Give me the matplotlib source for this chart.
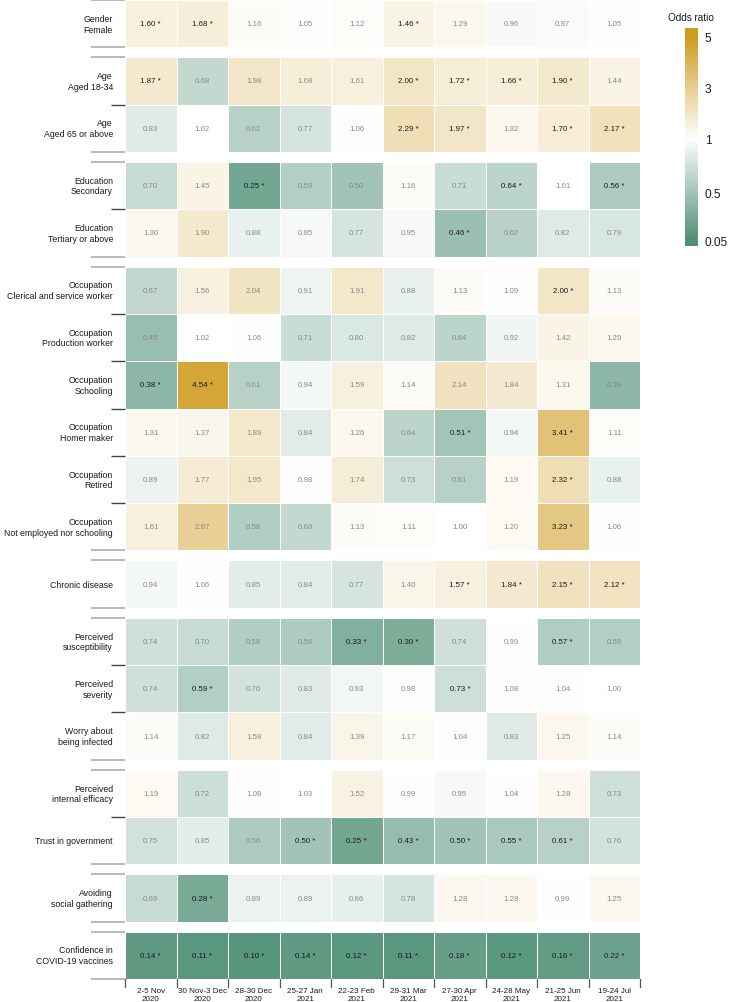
import numpy as np
import matplotlib
matplotlib.use("Agg")
import matplotlib.pyplot as plt
from matplotlib.colors import TwoSlopeNorm, LinearSegmentedColormap

plt.rcParams['font.family'] = ['Liberation Sans', 'DejaVu Sans']

# rows, grouped as in the figure
row_labels = [
    "Gender\nFemale",
    "Age\nAged 18-34", "Age\nAged 65 or above",
    "Education\nSecondary", "Education\nTertiary or above",
    "Occupation\nClerical and service worker", "Occupation\nProduction worker",
    "Occupation\nSchooling", "Occupation\nHomer maker", "Occupation\nRetired",
    "Occupation\nNot employed nor schooling",
    "Chronic disease",
    "Perceived\nsusceptibility", "Perceived\nseverity", "Worry about\nbeing infected",
    "Perceived\ninternal efficacy", "Trust in government",
    "Avoiding\nsocial gathering",
    "Confidence in\nCOVID-19 vaccines",
]
group_sizes = [1, 2, 2, 6, 1, 3, 2, 1, 1]

waves = ["2-5 Nov\n2020", "30 Nov-3 Dec\n2020", "28-30 Dec\n2020", "25-27 Jan\n2021",
         "22-23 Feb\n2021", "29-31 Mar\n2021", "27-30 Apr\n2021", "24-28 May\n2021",
         "21-25 Jun\n2021", "19-24 Jul\n2021"]

odds = [
    [1.60, 1.68, 1.16, 1.05, 1.12, 1.46, 1.29, 0.96, 0.97, 1.05],
    [1.87, 0.68, 1.98, 1.68, 1.61, 2.00, 1.72, 1.66, 1.90, 1.44],
    [0.83, 1.02, 0.62, 0.77, 1.06, 2.29, 1.97, 1.32, 1.70, 2.17],
    [0.70, 1.45, 0.25, 0.59, 0.50, 1.16, 0.71, 0.64, 1.01, 0.56],
    [1.30, 1.90, 0.88, 0.95, 0.77, 0.95, 0.46, 0.62, 0.82, 0.79],
    [0.67, 1.56, 2.04, 0.91, 1.91, 0.88, 1.13, 1.09, 2.00, 1.13],
    [0.45, 1.02, 1.06, 0.71, 0.80, 0.82, 0.64, 0.92, 1.42, 1.29],
    [0.38, 4.54, 0.61, 0.94, 1.59, 1.14, 2.14, 1.84, 1.31, 0.39],
    [1.31, 1.37, 1.89, 0.84, 1.26, 0.64, 0.51, 0.94, 3.41, 1.11],
    [0.89, 1.77, 1.95, 0.98, 1.74, 0.73, 0.61, 1.19, 2.32, 0.88],
    [1.61, 2.87, 0.58, 0.68, 1.13, 1.11, 1.00, 1.20, 3.23, 1.06],
    [0.94, 1.06, 0.85, 0.84, 0.77, 1.40, 1.57, 1.84, 2.15, 2.12],
    [0.74, 0.70, 0.58, 0.56, 0.33, 0.30, 0.74, 0.99, 0.57, 0.59],
    [0.74, 0.59, 0.76, 0.83, 0.93, 0.98, 0.73, 1.08, 1.04, 1.00],
    [1.14, 0.82, 1.58, 0.84, 1.39, 1.17, 1.04, 0.83, 1.25, 1.14],
    [1.19, 0.72, 1.08, 1.03, 1.52, 0.99, 0.95, 1.04, 1.28, 0.73],
    [0.75, 0.85, 0.56, 0.50, 0.25, 0.43, 0.50, 0.55, 0.61, 0.76],
    [0.69, 0.28, 0.89, 0.89, 0.86, 0.78, 1.28, 1.28, 0.99, 1.25],
    [0.14, 0.11, 0.10, 0.14, 0.12, 0.11, 0.18, 0.12, 0.16, 0.22],
]

signif = [
    [1, 1, 0, 0, 0, 1, 0, 0, 0, 0],
    [1, 0, 0, 0, 0, 1, 1, 1, 1, 0],
    [0, 0, 0, 0, 0, 1, 1, 0, 1, 1],
    [0, 0, 1, 0, 0, 0, 0, 1, 0, 1],
    [0, 0, 0, 0, 0, 0, 1, 0, 0, 0],
    [0, 0, 0, 0, 0, 0, 0, 0, 1, 0],
    [0, 0, 0, 0, 0, 0, 0, 0, 0, 0],
    [1, 1, 0, 0, 0, 0, 0, 0, 0, 0],
    [0, 0, 0, 0, 0, 0, 1, 0, 1, 0],
    [0, 0, 0, 0, 0, 0, 0, 0, 1, 0],
    [0, 0, 0, 0, 0, 0, 0, 0, 1, 0],
    [0, 0, 0, 0, 0, 0, 1, 1, 1, 1],
    [0, 0, 0, 0, 1, 1, 0, 0, 1, 0],
    [0, 1, 0, 0, 0, 0, 1, 0, 0, 0],
    [0, 0, 0, 0, 0, 0, 0, 0, 0, 0],
    [0, 0, 0, 0, 0, 0, 0, 0, 0, 0],
    [0, 0, 0, 1, 1, 1, 1, 1, 1, 0],
    [0, 1, 0, 0, 0, 0, 0, 0, 0, 0],
    [1, 1, 1, 1, 1, 1, 1, 1, 1, 1],
]

cbar_ticks = [0.05, 0.5, 1, 3, 5]

odds = np.array(odds)
signif = np.array(signif, dtype=bool)
ncol = len(waves)

cmap = LinearSegmentedColormap.from_list("or", ["#4f9076", "#ffffff", "#cf9b20"])
norm = TwoSlopeNorm(vmin=0.05, vcenter=1, vmax=5)

W, H = 729, 1003
fig = plt.figure(figsize=(W / 100, H / 100), dpi=100)
ax = fig.add_axes([125 / W, 1 - 980 / H, 515 / W, 979 / H])

gap = 0.211
total = len(row_labels) + gap * (len(group_sizes) - 1)
upx = total / 979  # data units per pixel (vertical)

r = 0
y = 0.0
for gs in group_sizes:
    edges = y + np.arange(gs + 1)
    ax.pcolormesh(np.arange(ncol + 1), edges, odds[r:r + gs], cmap=cmap, norm=norm,
                  edgecolors="white", linewidth=0.7)
    # group border lines and inner separators on the left
    for yy in (edges[0], edges[-1]):
        ax.plot([-0.66, 0], [yy, yy], color="#a6a6a6", lw=1.1, clip_on=False,
                solid_capstyle="butt")
    for yy in edges[1:-1]:
        ax.plot([-0.27, 0], [yy, yy], color="#444444", lw=1.0, clip_on=False,
                solid_capstyle="butt")
    for k in range(gs):
        yc = y + k + 0.5
        ax.text(-0.235, yc, row_labels[r + k], ha="right", va="center", fontsize=6.3,
                color="#1a1a1a", linespacing=1.25)
        for j in range(ncol):
            v = odds[r + k, j]
            s = signif[r + k, j]
            ax.text(j + 0.5, yc, f"{v:.2f} *" if s else f"{v:.2f}", ha="center",
                    va="center", fontsize=5.7, color="#1a1a1a" if s else "#8a8a8a")
    r += gs
    y += gs + gap

# bottom ticks and labels
for j in range(ncol + 1):
    ax.plot([j, j], [total, total + 8 * upx], color="#555555", lw=0.9, clip_on=False)
for j, lab in enumerate(waves):
    ax.text(j + 0.5, total + 15.5 * upx, lab, ha="center", va="center", fontsize=5.8,
            color="#1a1a1a", linespacing=1.15)

ax.set_xlim(0, ncol)
ax.set_ylim(total, 0)
ax.axis("off")

# colour bar
cax = fig.add_axes([685 / W, 1 - 247 / H, 13 / W, 218 / H])
tb, tt = -5 / 205, 213 / 205
grad = np.linspace(tb, tt, 300)[:, None]
cax.imshow(np.clip(grad, 0, 1), cmap=cmap, vmin=0, vmax=1, aspect="auto",
           origin="lower", extent=[0, 1, tb, tt])
cax.set_xticks([])
cax.set_yticks(norm(np.array(cbar_ticks)))
cax.set_yticklabels([f"{t:g}" for t in cbar_ticks])
cax.yaxis.tick_right()
cax.tick_params(axis="y", length=0, pad=5, labelsize=8.6, labelcolor="#1a1a1a")
for sp in cax.spines.values():
    sp.set_visible(False)
fig.text(691 / W, 1 - 18 / H, "Odds ratio", ha="center", va="center", fontsize=7.2,
         color="#1a1a1a")

fig.savefig("out.png", dpi=100)
